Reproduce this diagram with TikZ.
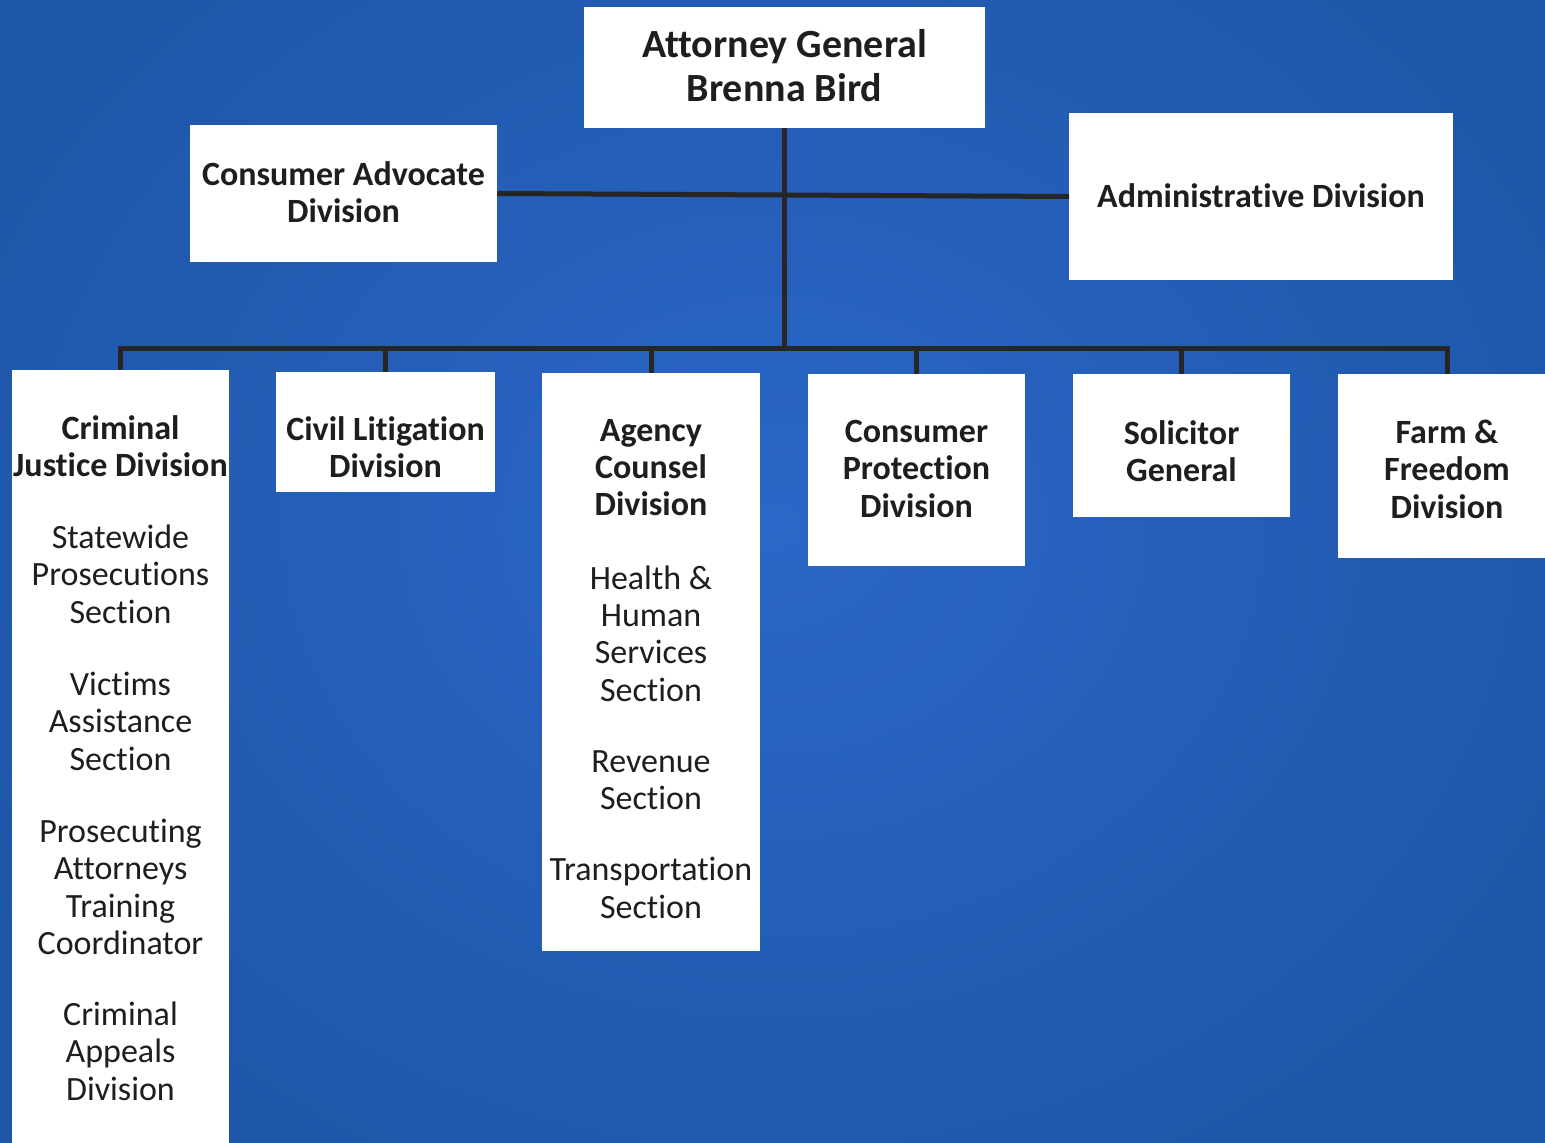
\documentclass[tikz,border=0pt]{standalone}
\usepackage{fontspec}
\setmainfont{Carlito}[Ligatures=NoCommon]
\definecolor{bgIn}{HTML}{2C66C8}
\definecolor{bgOut}{HTML}{1D56A6}
\definecolor{ink}{HTML}{1E1E1E}
\definecolor{linec}{HTML}{262626}
\begin{document}
\begin{tikzpicture}[x=1pt,y=-1pt,
  box/.style={fill=white, draw=none, inner sep=0pt, outer sep=0pt},
  conn/.style={draw=linec, line width=5pt},
  big/.style={font=\bfseries\fontsize{40}{44}\selectfont, text=ink, align=center},
  hd/.style={font=\bfseries\fontsize{34}{37}\selectfont, text=ink, align=center},
  txt/.style={font=\fontsize{34}{37.3}\selectfont, text=ink, align=center, inner sep=0pt, anchor=north}]
\clip (0,0) rectangle (1545,1143);
\shade[inner color=bgIn, outer color=bgOut] (-150,-250) rectangle (1695,1300);

% top level
\node[box, minimum width=401pt, minimum height=121pt] (ag) at (784.5,67.5) {};
\node[big, inner sep=0pt] (ag-t) at (784.5,65.5) {Attorney General\\Brenna Bird};
\node[box, minimum width=307pt, minimum height=137pt] (ca) at (343.5,193.5) {};
\node[hd, inner sep=0pt] (ca-t) at (343.5,192.5) {Consumer Advocate\\Division};
\node[box, hd, minimum width=384pt, minimum height=167pt] (ad) at (1261,196.5) {};
\node[hd, inner sep=0pt] (ad-t) at (1261,195.5) {Administrative Division};

% lower boxes
\node[box, anchor=north west, minimum width=217pt, minimum height=790pt] (cj) at (12,370) {};
\node[box, anchor=north west, minimum width=219pt, minimum height=120pt] (cl) at (276,372) {};
\node[box, anchor=north west, minimum width=218pt, minimum height=578pt] (ac) at (542,373) {};
\node[box, anchor=north west, minimum width=217pt, minimum height=192pt] (cp) at (808,374) {};
\node[box, anchor=north west, minimum width=217pt, minimum height=143pt] (sg) at (1073,374) {};
\node[box, anchor=north west, minimum width=218pt, minimum height=184pt] (fa) at (1338,374) {};

\coordinate (bus) at (784.5,348);

% connectors
\draw[conn] (ag.south) -- (ag.south |- bus);
\draw[conn] (ca.east) -- (ad.west);
\draw[conn] (cj.north) -- (cj.north |- bus) -- (fa.north |- bus) -- (fa.north);
\draw[conn] (cl.north) -- (cl.north |- bus);
\draw[conn] (ac.north) -- (ac.north |- bus);
\draw[conn] (cp.north) -- (cp.north |- bus);
\draw[conn] (sg.north) -- (sg.north |- bus);

% texts
\node[txt] (cj-t) at (120.5,415) {\textbf{Criminal}\\\textbf{Justice Division}\\[35pt]
  Statewide\\Prosecutions\\Section\\[35pt]
  Victims\\Assistance\\Section\\[35pt]
  Prosecuting\\Attorneys\\Training\\Coordinator\\[34pt]
  Criminal\\Appeals\\Division};
\node[txt] (cl-t) at (385.5,416) {\textbf{Civil Litigation}\\\textbf{Division}};
\node[txt] (ac-t) at (651,419) {\textbf{Agency}\\\textbf{Counsel}\\\textbf{Division}\\[36pt]
  Health \&\\Human\\Services\\Section\\[34pt]
  Revenue\\Section\\[34pt]
  Transportation\\Section};
\node[txt] (cp-t) at (916.5,420) {\textbf{Consumer}\\\textbf{Protection}\\\textbf{Division}};
\node[txt] (sg-t) at (1181.5,420) {\textbf{Solicitor}\\\textbf{General}};
\node[txt] (fa-t) at (1447,420) {\textbf{Farm \&}\\\textbf{Freedom}\\\textbf{Division}};
\end{tikzpicture}
\end{document}
